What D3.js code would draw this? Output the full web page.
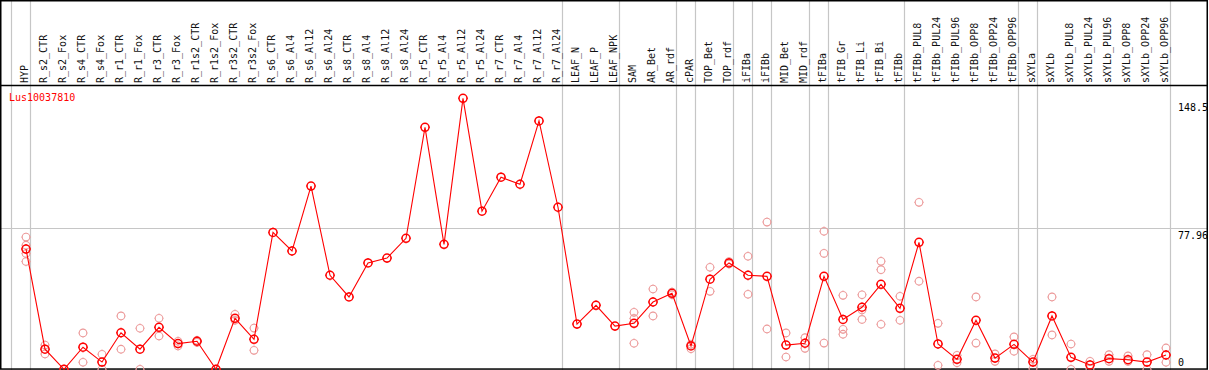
<!DOCTYPE html>
<html>
<head>
<meta charset="utf-8">
<script src="https://cdn.jsdelivr.net/npm/d3@7.9.0/dist/d3.min.js"></script>
<style>
  body { margin: 0; background: #fff; }
  svg { display: block; }
  text { font-family: "DejaVu Sans Mono", monospace; font-size: 10px; }
</style>
</head>
<body>
<div id="chart"></div>
<script>
const geneName = 'Lus10037810';

const categories = [
  'HYP', 'R_s2_CTR', 'R_s2_Fox', 'R_s4_CTR', 'R_s4_Fox', 'R_r1_CTR', 'R_r1_Fox',
  'R_r3_CTR', 'R_r3_Fox', 'R_r1s2_CTR', 'R_r1s2_Fox', 'R_r3s2_CTR', 'R_r3s2_Fox',
  'R_s6_CTR', 'R_s6_Al4', 'R_s6_Al12', 'R_s6_Al24', 'R_s8_CTR', 'R_s8_Al4',
  'R_s8_Al12', 'R_s8_Al24', 'R_r5_CTR', 'R_r5_Al4', 'R_r5_Al12', 'R_r5_Al24',
  'R_r7_CTR', 'R_r7_Al4', 'R_r7_Al12', 'R_r7_Al24', 'LEAF_N', 'LEAF_P', 'LEAF_NPK',
  'SAM', 'AR_Bet', 'AR_rdf', 'cPAR', 'TOP_Bet', 'TOP_rdf', 'iFIBa', 'iFIBb',
  'MID_Bet', 'MID_rdf', 'tFIBa', 'tFIB_Gr', 'tFIB_Li', 'tFIB_Bi', 'tFIBb',
  'tFIBb_PUL8', 'tFIBb_PUL24', 'tFIBb_PUL96', 'tFIBb_OPP8', 'tFIBb_OPP24', 'tFIBb_OPP96',
  'sXYLa', 'sXYLb', 'sXYLb_PUL8', 'sXYLb_PUL24', 'sXYLb_PUL96', 'sXYLb_OPP8',
  'sXYLb_OPP24', 'sXYLb_OPP96'
];

// mean expression per sample
const means = [
  66.5, 11.1, 0, 12.2, 4.0, 20.2, 11.1,
  23.2, 14.2, 15.5, 0, 28.2, 16.6,
  75.7, 65.4, 101.3, 52.0, 40.0, 58.8,
  61.5, 72.4, 133.8, 69.1, 149.8, 87.4,
  106.2, 102.3, 137.3, 89.6, 25.0, 35.4, 23.9,
  25.4, 37.2, 42.0, 12.9, 49.8, 58.8, 52.0, 51.4,
  13.4, 14.4, 51.4, 27.6, 34.3, 47.0, 33.7,
  70.2, 14.0, 5.5, 27.1, 6.2, 13.8,
  4.0, 29.5, 6.6, 2.4, 5.9, 5.3,
  4.0, 7.9
];

// individual replicates (empty where none are visible)
const replicates = [
  [73.1, 68.6, 64.0, 59.6], [13.4, 8.5], [0, 0], [20.1, 3.9], [8.3, 0], [29.5, 11.1], [22.7, 0],
  [28.2, 18.4], [15.5, 12.9], [16.0, 14.9], [0, 0], [30.4, 27.1], [22.8, 10.5],
  [], [], [], [], [], [],
  [], [], [], [], [], [],
  [], [], [], [], [], [], [],
  [31.5, 28.1, 14.4], [44.4, 29.5], [42.7, 41.2], [13.8, 11.4], [56.4, 43.1], [59.5, 58.2], [62.5, 41.5], [81.4, 22.3],
  [20.1, 6.8], [17.5, 11.6], [76.3, 64.1, 14.5], [40.9, 22.1, 19.4], [41.2, 32.8, 27.6], [59.7, 55.1, 24.9], [40.4, 27.1],
  [92.3, 48.7], [25.4, 2.2], [7.7, 3.6], [40.0, 14.5], [8.5, 4.4], [17.9, 10.0],
  [5.5, 0.3], [40.0, 19.0], [14.0, 0], [4.4, 0.3], [8.1, 4.4], [7.4, 4.4],
  [8.1, 0], [11.8, 3.9]
];

// samples after which a group separator is drawn
const groupEnds = ['HYP', 'R_r7_Al24', 'LEAF_NPK', 'AR_rdf', 'cPAR', 'TOP_rdf', 'iFIBa', 'iFIBb',
  'MID_rdf', 'tFIBa', 'tFIBb', 'tFIBb_OPP96', 'sXYLa', 'sXYLb_OPP96'];

const yTicks = [0, 77.96, 148.5];
const yGrid = [77.96];

const width = 1209;
const height = 370;
const headerBottom = 85.5;

const svg = d3.select('#chart')
  .append('svg')
  .attr('width', width)
  .attr('height', height);

const xScale = d3.scalePoint()
  .domain(categories)
  .range([26, 1166]);

const step = xScale.step();

const yScale = d3.scaleLinear()
  .domain([0, 148.5])
  .range([369.3, 100.7]);

// vertical group separators
const sepX = [xScale(categories[0]) - step + 4.5]
  .concat(groupEnds.map((c) => xScale(c) + 4.5));

svg.append('g')
  .selectAll('line')
  .data(sepX)
  .join('line')
  .attr('x1', (d) => d)
  .attr('x2', (d) => d)
  .attr('y1', 0)
  .attr('y2', height)
  .attr('stroke', '#c6c6c6')
  .attr('stroke-width', 1.2);

// horizontal grid
svg.append('g')
  .selectAll('line')
  .data(yGrid)
  .join('line')
  .attr('x1', 0)
  .attr('x2', 1207)
  .attr('y1', (d) => Math.round(yScale(d)) + 0.5)
  .attr('y2', (d) => Math.round(yScale(d)) + 0.5)
  .attr('stroke', '#c6c6c6')
  .attr('stroke-width', 1.2);

// frame
svg.append('rect')
  .attr('x', 0.75)
  .attr('y', 0.75)
  .attr('width', 1206.5)
  .attr('height', 368.3)
  .attr('fill', 'none')
  .attr('stroke', '#000')
  .attr('stroke-width', 1.5);

svg.append('line')
  .attr('x1', 0)
  .attr('x2', 1208)
  .attr('y1', headerBottom)
  .attr('y2', headerBottom)
  .attr('stroke', '#000')
  .attr('stroke-width', 1.4);

// sample labels, rotated
svg.append('g')
  .selectAll('text')
  .data(categories)
  .join('text')
  .attr('transform', (d) => `translate(${xScale(d) + 2},83) rotate(-90)`)
  .attr('fill', '#111')
  .text((d) => d);

// circle with tiny nubs, like the original marker
function marker(r) {
  const s = r + 0.9;
  return `M${r},0A${r},${r} 0 1,1 ${-r},0A${r},${r} 0 1,1 ${r},0` +
    `M0,${-r}V${-s}M0,${r}V${s}M${-r},0H${-s}M${r},0H${s}`;
}

const plot = svg.append('g');

const repPoints = categories.flatMap((c, i) => replicates[i].map((v) => ({ c, v })));

plot.append('g')
  .selectAll('path')
  .data(repPoints)
  .join('path')
  .attr('transform', (d) => `translate(${xScale(d.c)},${yScale(d.v)})`)
  .attr('d', marker(3.8))
  .attr('fill', 'none')
  .attr('stroke', '#ec9a9a')
  .attr('stroke-width', 1.1);

const meanPoints = categories.map((c, i) => ({ c, v: means[i] }));

const line = d3.line()
  .x((d) => xScale(d.c))
  .y((d) => yScale(d.v));

plot.append('path')
  .datum(meanPoints)
  .attr('d', line)
  .attr('fill', 'none')
  .attr('stroke', '#ff0000')
  .attr('stroke-width', 1.1);

plot.append('g')
  .selectAll('path')
  .data(meanPoints)
  .join('path')
  .attr('transform', (d) => `translate(${xScale(d.c)},${yScale(d.v)})`)
  .attr('d', marker(4))
  .attr('fill', 'none')
  .attr('stroke', '#ff0000')
  .attr('stroke-width', 1.5);

// gene name
svg.append('text')
  .attr('x', 9)
  .attr('y', 101)
  .attr('fill', '#ff0000')
  .text(geneName);

// value labels on the right
svg.append('g')
  .selectAll('text')
  .data(yTicks)
  .join('text')
  .attr('x', 1178)
  .attr('y', (d) => Math.min(yScale(d) + 10.5, 365.5))
  .attr('fill', '#000')
  .text((d) => d);
</script>
</body>
</html>
